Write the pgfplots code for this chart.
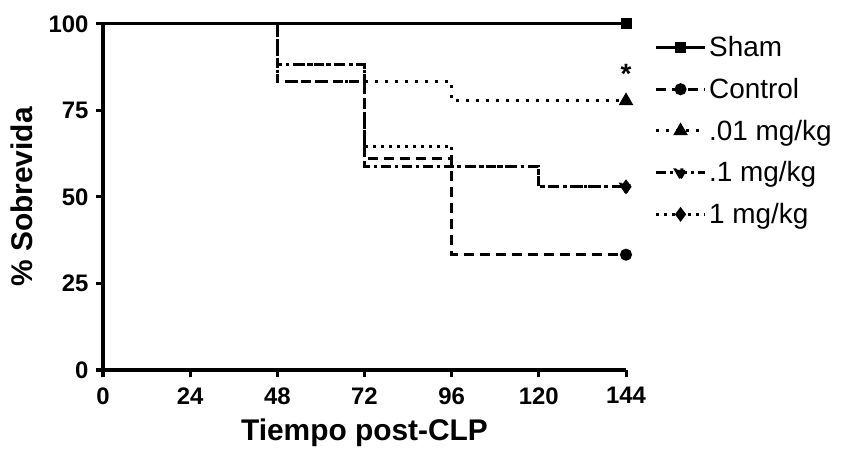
\documentclass[border=0pt]{standalone}
\usepackage{fontspec}
\setmainfont{Liberation Sans}
\usepackage{pgfplots}
\pgfplotsset{compat=1.18}
\begin{document}
\begin{tikzpicture}
\path[use as bounding box] (0,0) rectangle (848bp,451bp);
\begin{axis}[
  at={(103bp,81bp)}, anchor=south west,
  scale only axis, width=523bp, height=346bp,
  xmin=0, xmax=144, ymin=0, ymax=100,
  clip=false,
  axis x line*=bottom, axis y line*=left,
  axis line style={-, line width=3.5bp},
  xtick={0,24,48,72,96,120,144},
  ytick={0,25,50,75,100},
  tick align=outside,
  major tick length=7bp,
  tick style={line width=3bp, black},
  /pgf/number format/assume math mode=true,
  ticklabel style={font=\fontsize{24}{27}\selectfont\bfseries},
  xticklabel style={anchor=north, yshift=-7bp},
  yticklabel style={anchor=east, xshift=-4bp},
  xlabel={Tiempo post-CLP},
  ylabel={\% Sobrevida},
  every axis x label/.style={at={(axis description cs:0.5,-0.182)}, anchor=center, font=\fontsize{30}{34}\selectfont\bfseries},
  every axis y label/.style={at={(axis description cs:-0.155,0.5)}, anchor=center, rotate=90, font=\fontsize{30}{34}\selectfont\bfseries},
  legend image code/.code={\draw[#1] plot coordinates {(0cm,0cm) (0.85cm,0cm) (1.7cm,0cm)};},
  legend image post style={mark indices={2}},
  legend style={at={(1.055,0.964)}, anchor=north west, draw=none, fill=none,
    font=\fontsize{28}{31}\selectfont, row sep=20bp, inner sep=0pt,
    nodes={inner xsep=3bp, inner ysep=0pt}},
  legend cell align=left,
  every axis plot/.append style={line width=3bp, black},
  mark options={solid, fill=black},
]
% Sham
\addplot[const plot, solid, mark=square*, mark size=4bp, mark indices={2}] coordinates {(0,100) (144,100)};
% Control
\addplot[const plot, dash pattern=on 10bp off 6bp, mark=*, mark size=4.5bp, mark indices={5}] coordinates {(0,100) (48,83.33) (72,61.11) (96,33.33) (144,33.33)};
% .01 mg/kg
\addplot[const plot, dash pattern=on 3bp off 7bp, mark=triangle*, mark size=5.5bp, mark indices={4}] coordinates {(0,100) (48,83.33) (96,77.78) (144,77.78)};
% .1 mg/kg
\addplot[const plot, dash pattern=on 10bp off 4bp on 3bp off 4bp, mark=triangle*, mark options={rotate=180}, mark size=5.5bp, mark indices={5}] coordinates {(0,100) (48,88.24) (72,58.82) (120,52.94) (144,52.94)};
% 1 mg/kg
\addplot[const plot, dash pattern=on 3bp off 5bp, mark=diamond*, mark size=5bp, mark indices={6}] coordinates {(0,100) (48,88.24) (72,64.71) (96,58.82) (120,52.94) (144,52.94)};
\legend{Sham, Control, .01 mg/kg, .1 mg/kg, 1 mg/kg}
\node[font=\fontsize{28}{30}\selectfont\bfseries] at (axis cs:144,85.5) {*};
\end{axis}
\end{tikzpicture}
\end{document}
